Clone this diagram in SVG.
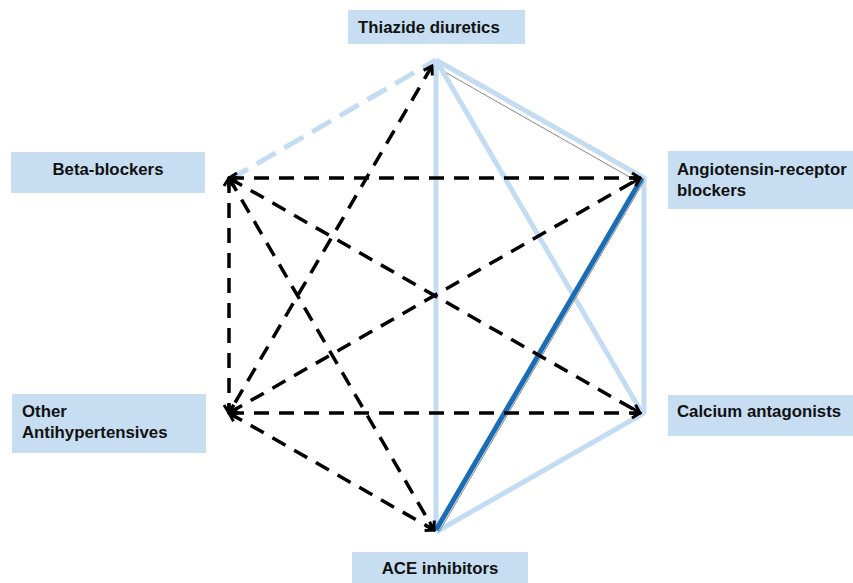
<svg xmlns="http://www.w3.org/2000/svg" width="853" height="583" viewBox="0 0 853 583">
<defs>
<style>
.box{fill:#c6ddf2}
.lbl{font-family:"Liberation Sans",Arial,Helvetica,sans-serif;font-weight:bold;font-size:16.8px;fill:#111}
.blk{stroke:#000;stroke-width:3.5;stroke-dasharray:15 10;fill:none;marker-start:url(#ah);marker-end:url(#ah)}
.lb{stroke:#c4dcf2;stroke-width:5;fill:none}
.lbd{stroke:#c4dcf2;stroke-width:5;stroke-dasharray:22 10;fill:none}
.sh{stroke:#888;stroke-width:1;fill:none}
.db{stroke:#1a6db5;stroke-width:5;fill:none}
</style>
<marker id="ah" markerUnits="userSpaceOnUse" viewBox="-12 -8 14 16" markerWidth="14" markerHeight="16" refX="0" refY="0" orient="auto-start-reverse">
<path d="M-8,-5 L0,0 L-8,5" fill="none" stroke="#000" stroke-width="3" stroke-linejoin="miter"/>
</marker>
</defs>
<rect width="853" height="583" fill="#fff"/>
<g id="connectors">
<line class="sh" x1="436" y1="67" x2="640" y2="183"/>
<line class="lb" x1="436" y1="60" x2="644" y2="178"/>
<line class="lb" x1="436" y1="60" x2="642" y2="413"/>
<line class="lb" x1="436" y1="60" x2="436" y2="532"/>
<line class="lbd" x1="229" y1="180" x2="436" y2="60"/>
<line class="lb" x1="644" y1="176" x2="644" y2="414"/>
<line class="lb" x1="644" y1="413" x2="436" y2="532"/>
<line class="sh" x1="644" y1="181" x2="439" y2="532"/>
<line class="db" x1="642" y1="178" x2="436" y2="530"/>
<line class="blk" x1="432" y1="66" x2="229" y2="413"/>
<line class="blk" x1="229" y1="178" x2="640" y2="178"/>
<line class="blk" x1="229" y1="178" x2="640" y2="413"/>
<line class="blk" x1="229" y1="178" x2="434" y2="530"/>
<line class="blk" x1="229" y1="178" x2="229" y2="413"/>
<line class="blk" x1="229" y1="413" x2="640" y2="178"/>
<line class="blk" x1="229" y1="413" x2="640" y2="413"/>
<line class="blk" x1="229" y1="413" x2="434" y2="530"/>
</g>
<g id="thiazide">
<rect class="box" x="348" y="10" width="177" height="34"/>
<text class="lbl" x="358" y="33">Thiazide diuretics</text>
</g>
<g id="beta">
<rect class="box" x="11" y="152" width="194" height="41"/>
<text class="lbl" x="108" y="175" text-anchor="middle">Beta-blockers</text>
</g>
<g id="other">
<rect class="box" x="12" y="394" width="194" height="59"/>
<text class="lbl" x="22" y="417">Other</text>
<text class="lbl" x="22" y="438">Antihypertensives</text>
</g>
<g id="arb">
<rect class="box" x="668" y="151" width="185" height="58"/>
<text class="lbl" x="677" y="175">Angiotensin-receptor</text>
<text class="lbl" x="677" y="196">blockers</text>
</g>
<g id="calcium">
<rect class="box" x="668" y="395" width="185" height="41"/>
<text class="lbl" x="677" y="417">Calcium antagonists</text>
</g>
<g id="ace">
<rect class="box" x="352" y="552" width="176" height="31"/>
<text class="lbl" x="440" y="574" text-anchor="middle">ACE inhibitors</text>
</g>
</svg>
